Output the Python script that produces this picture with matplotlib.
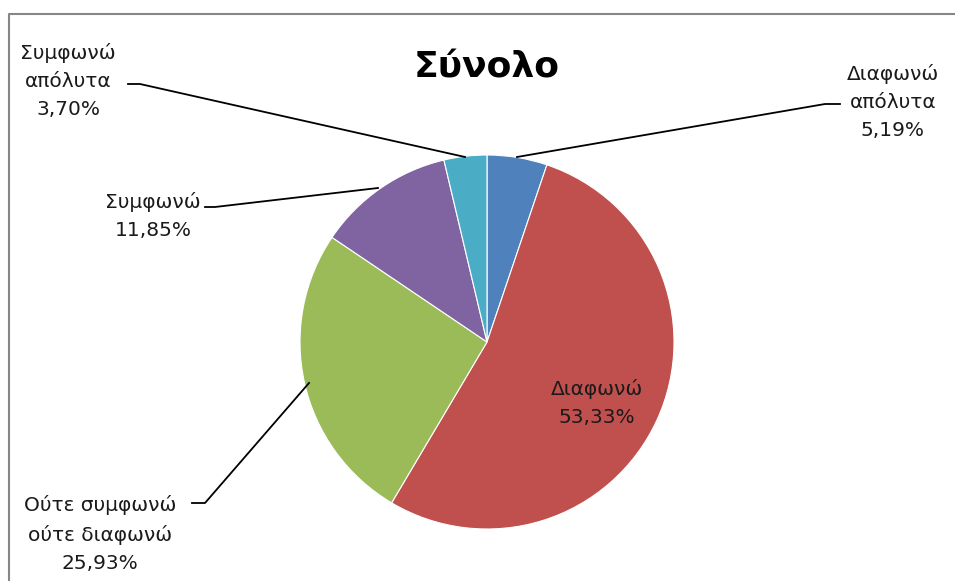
import matplotlib
matplotlib.use("Agg")
import matplotlib.pyplot as plt
from matplotlib.lines import Line2D

plt.rcParams['font.family'] = ['DejaVu Sans']

categories = ["Διαφωνώ απόλυτα", "Διαφωνώ", "Ούτε συμφωνώ ούτε διαφωνώ", "Συμφωνώ", "Συμφωνώ απόλυτα"]
values = [5.19, 53.33, 25.93, 11.85, 3.70]
label_texts = ["Διαφωνώ\nαπόλυτα\n5,19%", "Διαφωνώ\n53,33%", "Ούτε συμφωνώ\nούτε διαφωνώ\n25,93%",
               "Συμφωνώ\n11,85%", "Συμφωνώ\nαπόλυτα\n3,70%"]
colors = ["#4F81BD", "#C0504D", "#9BBB59", "#8064A2", "#4BACC6"]
title = "Σύνολο"

W, H = 955, 581
fig = plt.figure(figsize=(W / 100, H / 100), dpi=100)

cx, cy, R = 487, 342, 187
ax = fig.add_axes([(cx - R) / W, (H - cy - R) / H, 2 * R / W, 2 * R / H])
ax.pie(values, colors=colors, startangle=90, counterclock=False, radius=1,
       wedgeprops=dict(edgecolor="white", linewidth=0.8))
ax.set_xlim(-1, 1)
ax.set_ylim(-1, 1)
ax.set_aspect("equal")
ax.axis("off")

def d(px, py):
    return ((px - cx) / R, (cy - py) / R)

fs = 14.5
ls = 1.6
tc = "#1a1a1a"
# Διαφωνώ απόλυτα
ax.text(*d(893, 102), label_texts[0], ha="center", va="center", fontsize=fs, linespacing=ls, color=tc, clip_on=False)
ax.add_line(Line2D(*zip(d(517, 157), d(825, 104), d(840, 104)), color="black", lw=1.3, clip_on=False))
# Διαφωνώ (inside)
ax.text(*d(597, 403), label_texts[1], ha="center", va="center", fontsize=fs, linespacing=ls, color=tc)
# Ούτε συμφωνώ ούτε διαφωνώ
ax.text(*d(100, 534), label_texts[2], ha="center", va="center", fontsize=fs, linespacing=ls, color=tc, clip_on=False)
ax.add_line(Line2D(*zip(d(192, 503), d(205, 503), d(309, 383)), color="black", lw=1.3, clip_on=False))
# Συμφωνώ
ax.text(*d(153, 216), label_texts[3], ha="center", va="center", fontsize=fs, linespacing=ls, color=tc, clip_on=False)
ax.add_line(Line2D(*zip(d(205, 207), d(215, 207), d(378, 188)), color="black", lw=1.3, clip_on=False))
# Συμφωνώ απόλυτα
ax.text(*d(68, 81), label_texts[4], ha="center", va="center", fontsize=fs, linespacing=ls, color=tc, clip_on=False)
ax.add_line(Line2D(*zip(d(128, 84), d(140, 84), d(465, 157)), color="black", lw=1.3, clip_on=False))

fig.text(487 / W, 1 - 67 / H, title, ha="center", va="center", fontsize=26, fontweight="bold")

# outer border (top and left visible)
fig.add_artist(Line2D([9 / W, 9 / W, 1.0], [0.0, 1 - 14 / H, 1 - 14 / H],
                      transform=fig.transFigure, color="#868686", lw=1.5))

fig.savefig("out.png", dpi=100)
